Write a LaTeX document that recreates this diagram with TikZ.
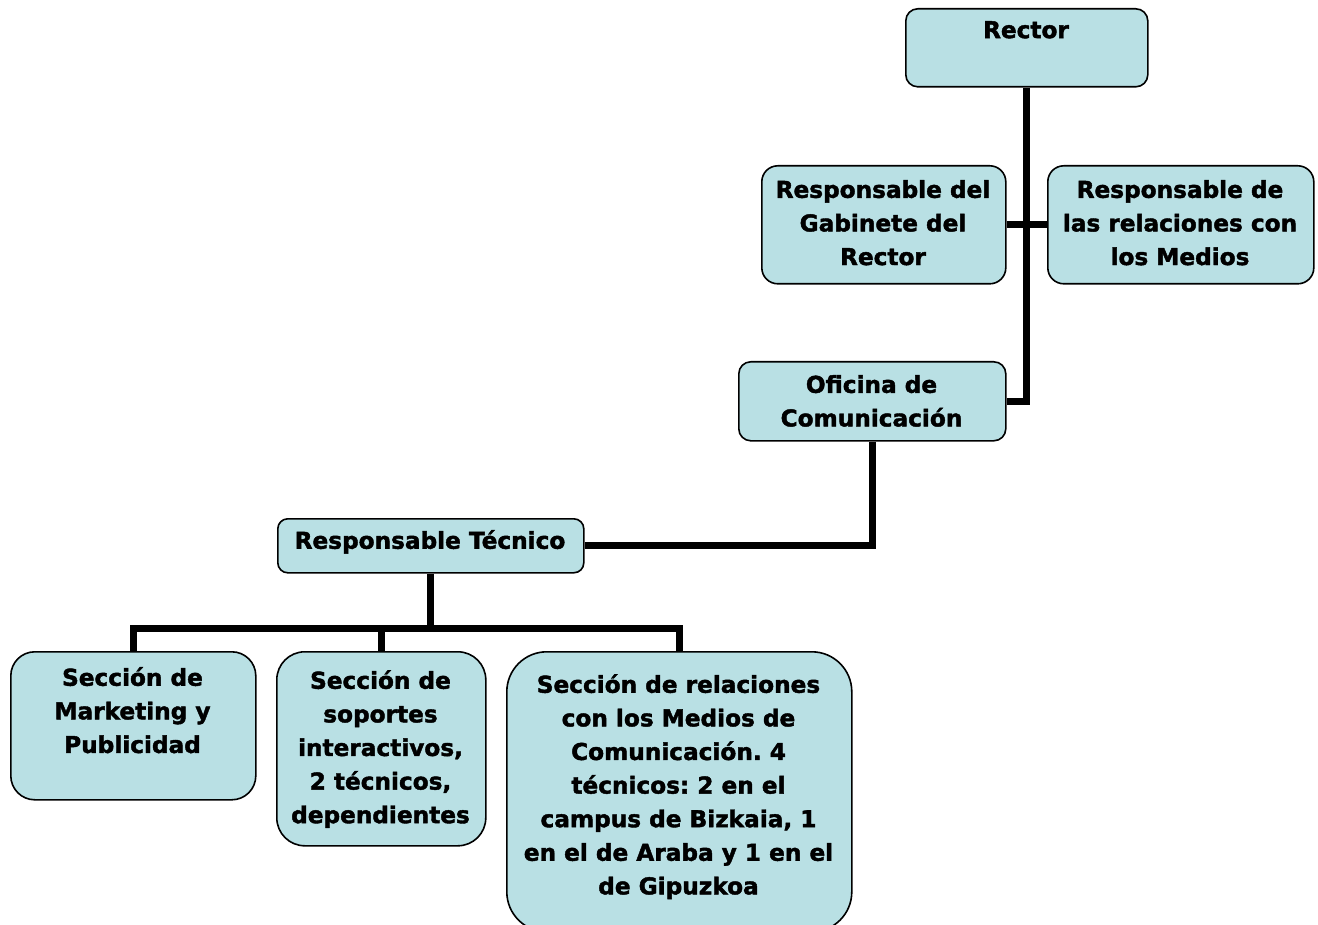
\documentclass[tikz,border=0pt]{standalone}
\usepackage{fontspec}
\setmainfont{DejaVu Sans}[BoldFont={DejaVu Sans Bold}, BoldFeatures={FakeBold=1.8}]
\definecolor{boxfill}{RGB}{185,224,228}
\frenchspacing
\begin{document}
\begin{tikzpicture}[x=1pt,y=-1pt,
  box/.style={draw=black, line width=1.6pt, fill=boxfill, inner sep=0pt, anchor=north west},
  lbl/.style={font=\frenchspacing\bfseries\fontsize{23.2}{33.6}\selectfont, align=center, inner sep=0pt, anchor=north},
  conn/.style={line width=7pt, line join=miter, line cap=butt}]
\fill[white] (0,0) rectangle (1318,925);
\useasboundingbox (0,0) rectangle (1318,925);
% boxes
\node[box, rounded corners=12pt, minimum width=242pt, minimum height=78pt] (rector) at (905,8) {};
\node[box, rounded corners=16pt, minimum width=244pt, minimum height=118pt] (gab) at (761,165) {};
\node[box, rounded corners=16pt, minimum width=266pt, minimum height=118pt] (med) at (1047,165) {};
\node[box, rounded corners=12pt, minimum width=267pt, minimum height=79pt] (ofi) at (738,361) {};
\node[box, rounded corners=10pt, minimum width=306pt, minimum height=54pt] (tec) at (277,518) {};
\node[box, rounded corners=24pt, minimum width=245pt, minimum height=148pt] (mkt) at (10,651) {};
\node[box, rounded corners=28pt, minimum width=209pt, minimum height=194pt] (sop) at (276,651) {};
\node[box, rounded corners=40pt, minimum width=345pt, minimum height=280pt] (rel) at (506,651) {};
% labels
\node[lbl] (trector) at (1026,21) {Rector};
\node[lbl] (tgab) at (883,180) {Responsable del\\Gabinete del\\Rector};
\node[lbl] (tmed) at (1180,180) {Responsable de\\las relaciones con\\los Medios};
\node[lbl] (tofi) at (871.5,375) {Oficina de\\Comunicación};
\node[lbl] (ttec) at (430,530) {Responsable Técnico};
\node[lbl] (tmkt) at (132.5,667) {Sección de\\Marketing y\\Publicidad};
\node[lbl] (tsop) at (380.5,670) {Sección de\\soportes\\interactivos,\\2 técnicos,\\dependientes};
\node[lbl] (trel) at (678.5,674) {Sección de relaciones\\con los Medios de\\Comunicación. 4\\técnicos: 2 en el\\campus de Bizkaia, 1\\en el de Araba y 1 en el\\de Gipuzkoa};
% connectors
\coordinate (bus) at ([yshift=-55pt]tec.south);
\draw[conn] (rector.south) |- (ofi.east);
\draw[conn] (gab.east) -- (med.west);
\draw[conn] (ofi.south) |- (tec.east);
\draw[conn] (tec.south) -- (bus);
\draw[conn] (mkt.north) |- (bus) -| (rel.north);
\draw[conn] (bus -| sop.north) -- (sop.north);
\end{tikzpicture}
\end{document}
